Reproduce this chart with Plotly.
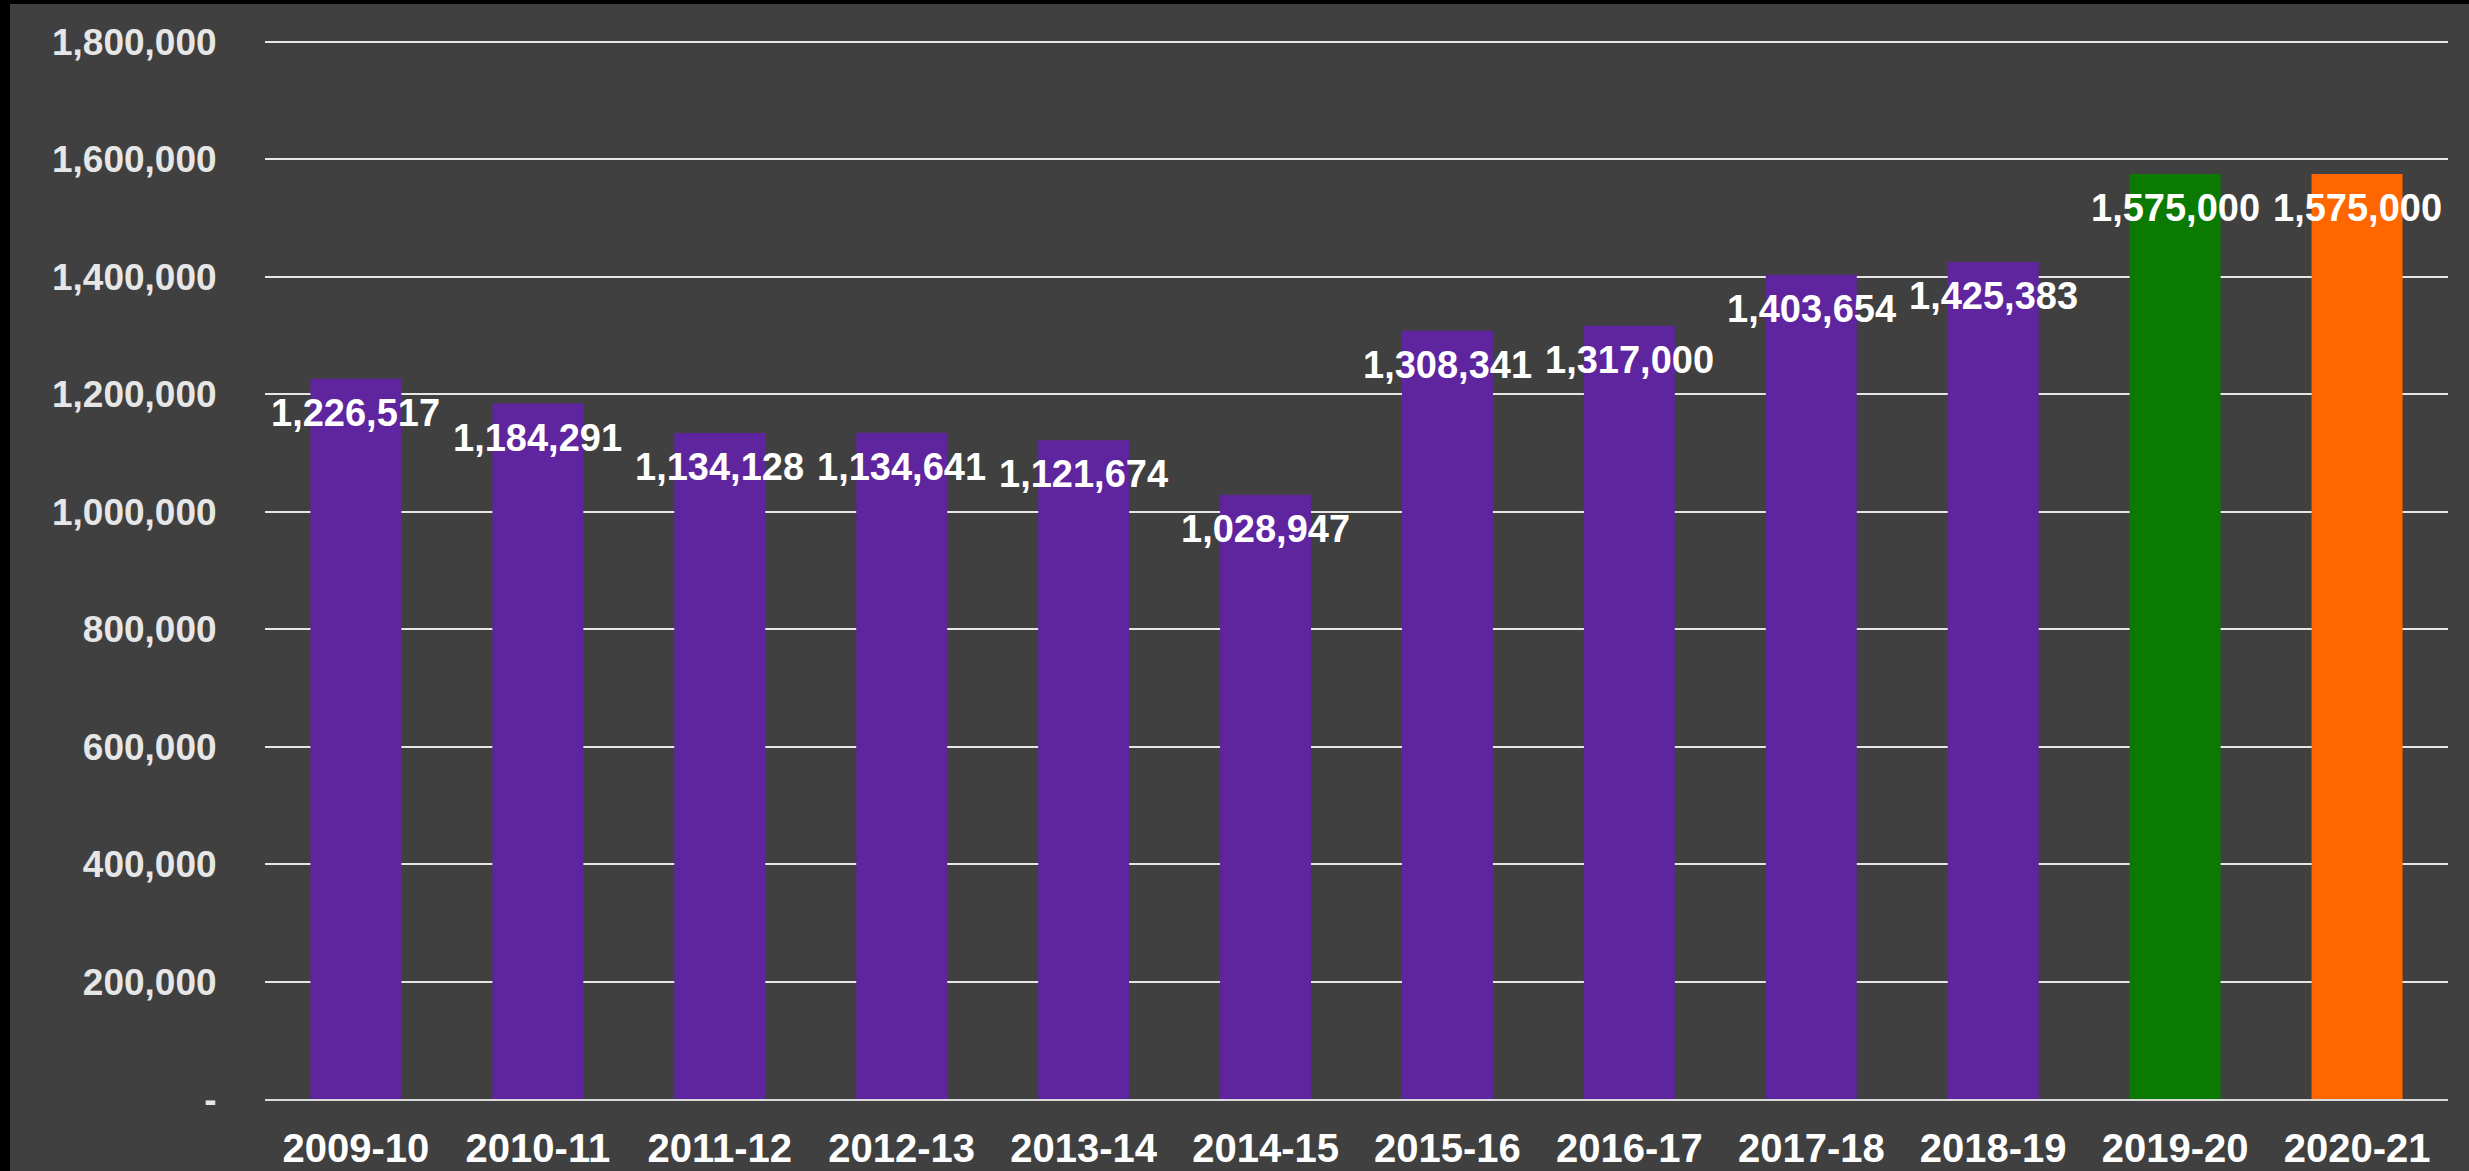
import plotly.graph_objects as go

categories = ["2009-10", "2010-11", "2011-12", "2012-13", "2013-14", "2014-15",
              "2015-16", "2016-17", "2017-18", "2018-19", "2019-20", "2020-21"]
values = [1226517, 1184291, 1134128, 1134641, 1121674, 1028947,
          1308341, 1317000, 1403654, 1425383, 1575000, 1575000]
bar_colors = ["#5E259F"] * 10 + ["#0B7A03", "#FF6600"]
y_tickvals = [0, 200000, 400000, 600000, 800000, 1000000, 1200000, 1400000, 1600000, 1800000]
y_ticktext = ["-", "200,000", "400,000", "600,000", "800,000", "1,000,000",
              "1,200,000", "1,400,000", "1,600,000", "1,800,000"]

FONT = "Liberation Sans, Arial, sans-serif"
W, H = 2469, 1171
ML, MR, MT, MB = 265, 21, 40, 72
PW, PH = W - ML - MR, H - MT - MB
Y_MAX = 1800000 * (1 + 2 / 1057)

fig = go.Figure()
fig.add_trace(go.Bar(
    x=categories, y=values, marker=dict(color=bar_colors, line=dict(width=0)),
    width=0.5, hoverinfo="x+y",
))

for c, v in zip(categories, values):
    fig.add_annotation(
        x=c, y=v, xref="x", yref="y", text=f"{v:,}", showarrow=False,
        yanchor="middle", xanchor="center", yshift=-34,
        font=dict(family=FONT, size=38, color="#FFFFFF", weight="bold"),
    )

# dark grey chart area with thin black frame on left/top
fig.add_shape(
    type="rect", xref="paper", yref="paper", layer="below",
    x0=(10 - ML) / PW, x1=(W + 20 - ML) / PW,
    y0=-(MB + 30) / PH, y1=1 + (MT - 4) / PH,
    fillcolor="#404040", line=dict(width=0),
)

fig.update_layout(
    width=W, height=H,
    margin=dict(l=ML, r=MR, t=MT, b=MB, pad=0),
    paper_bgcolor="#000000", plot_bgcolor="rgba(0,0,0,0)",
    showlegend=False, bargap=0.5,
    xaxis=dict(
        type="category", automargin=False,
        showgrid=False, showline=True, linecolor="#D9D9D9", linewidth=2,
        ticks="outside", ticklen=13, tickcolor="rgba(0,0,0,0)",
        tickfont=dict(family=FONT, size=40, color="#FFFFFF", weight="bold"),
    ),
    yaxis=dict(
        range=[0, Y_MAX], tickvals=y_tickvals, ticktext=y_ticktext, automargin=False,
        showgrid=True, gridcolor="#E6E6E6", gridwidth=2, zeroline=False,
        showline=False, ticks="outside", ticklen=40, tickcolor="rgba(0,0,0,0)",
        tickfont=dict(family=FONT, size=37, color="#E6E6E6", weight="bold"),
    ),
)

fig.write_html("out.html")
